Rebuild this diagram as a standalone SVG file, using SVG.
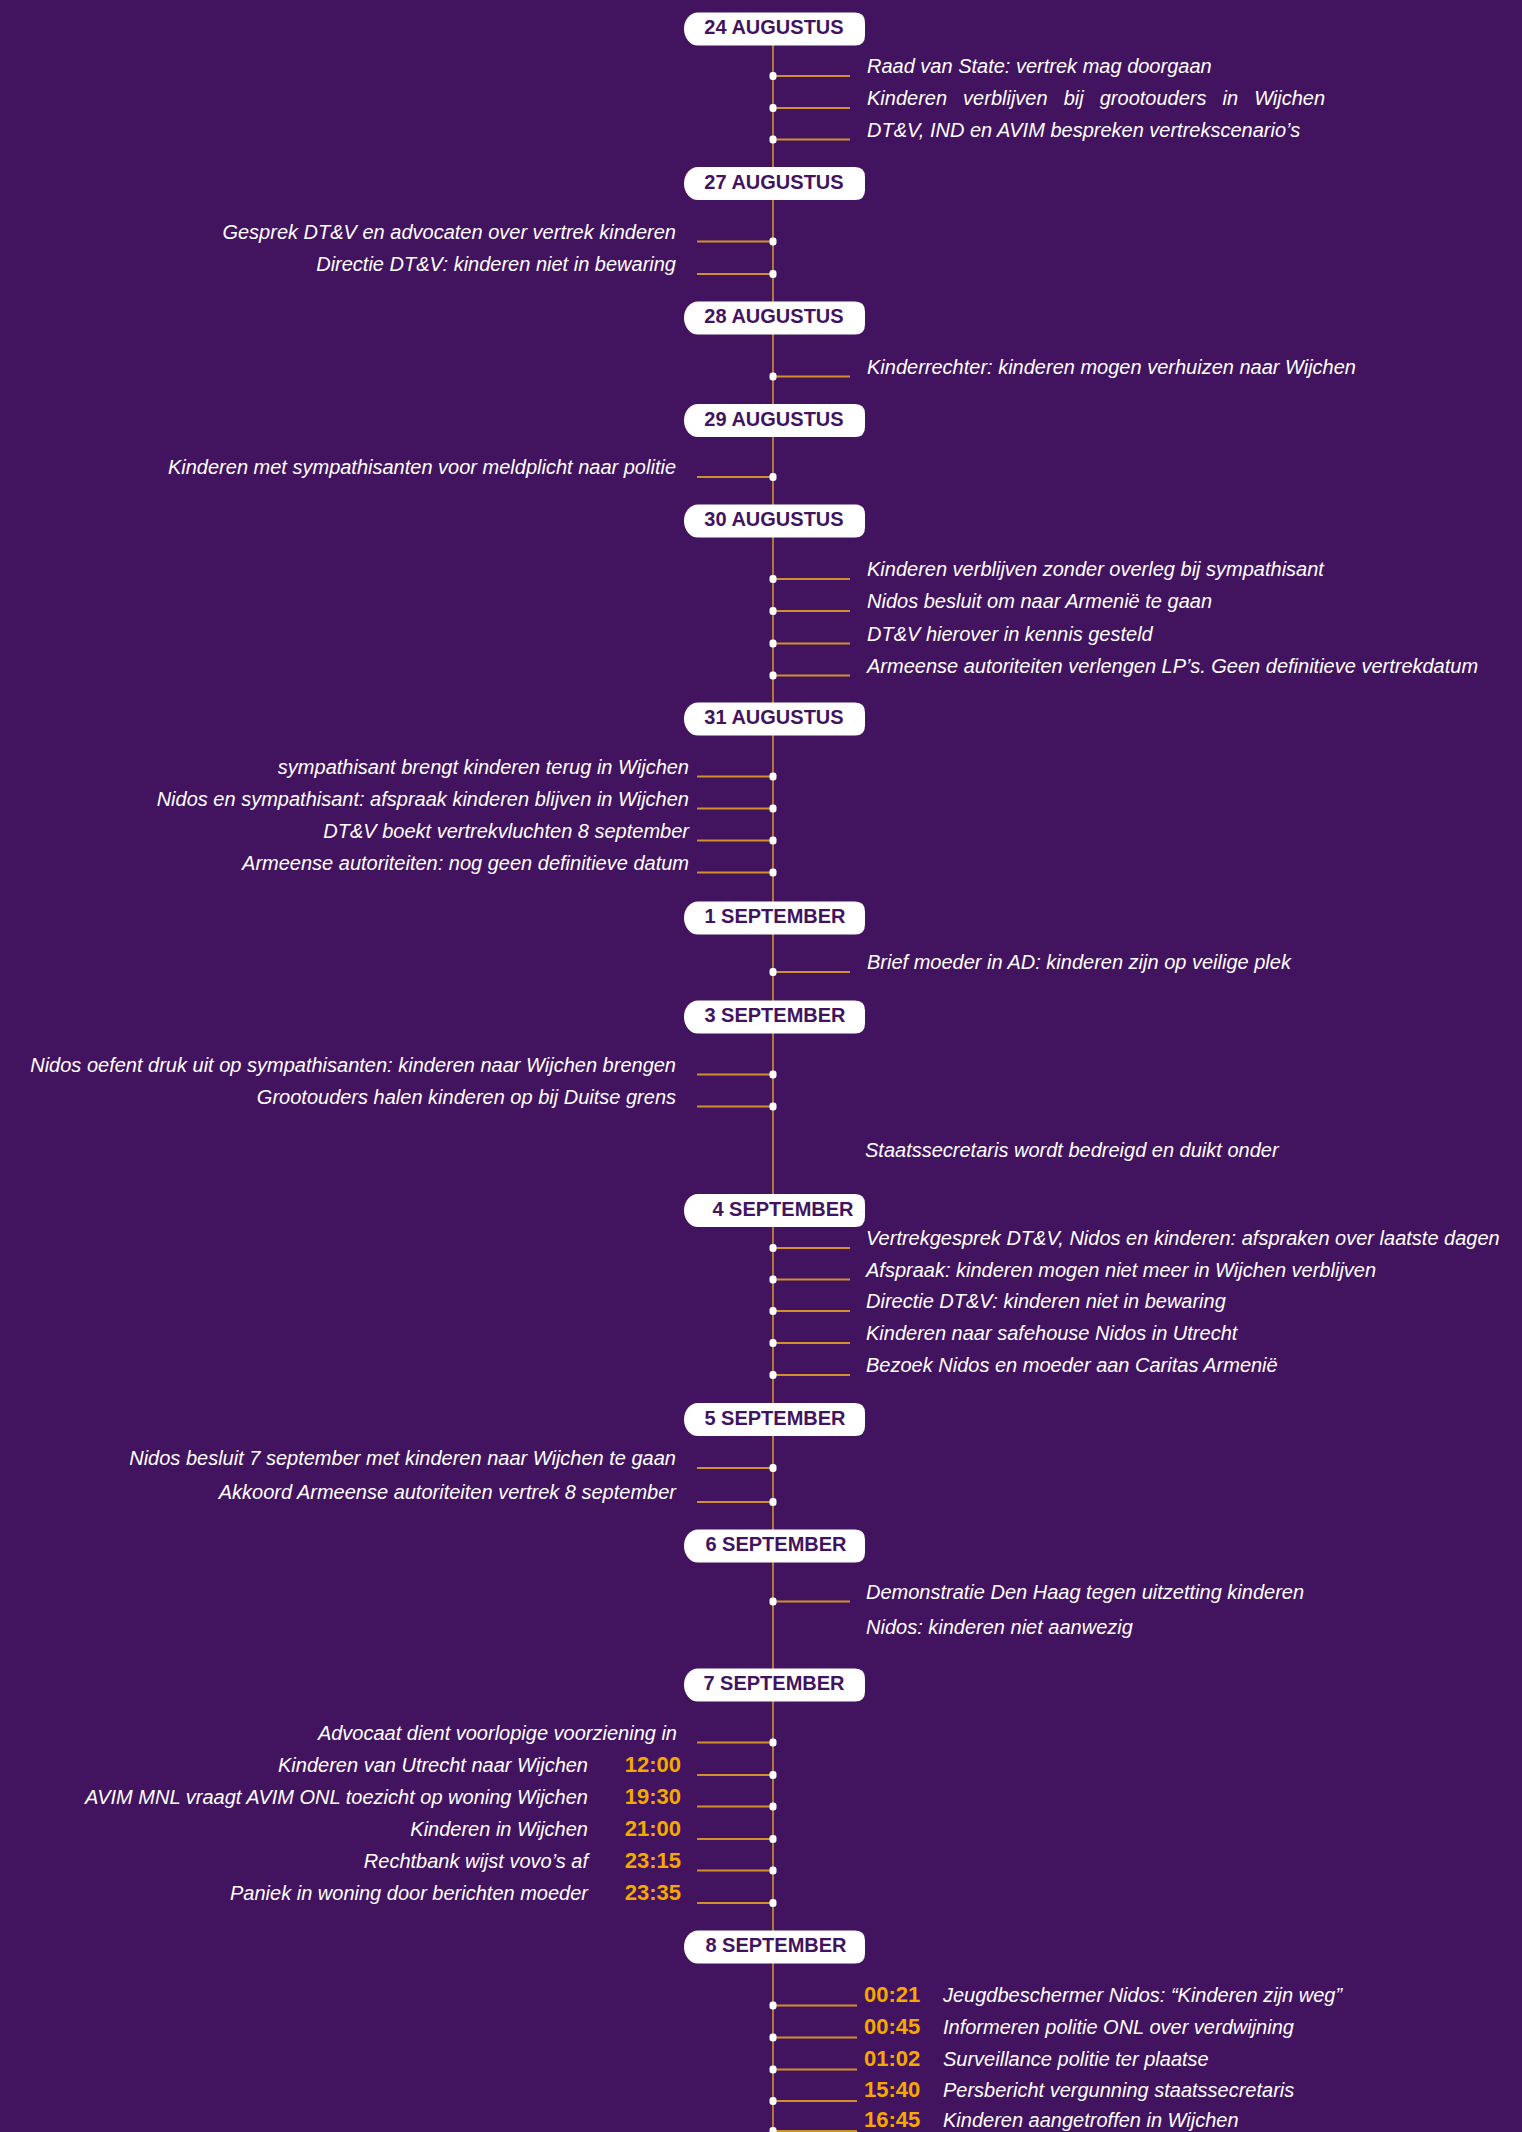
<svg xmlns="http://www.w3.org/2000/svg" width="1522" height="2132" viewBox="0 0 1522 2132">
<style>
.line{stroke:#d0902c;stroke-width:1.6;fill:none}
.tick{stroke:#d0902c;stroke-width:2;fill:none}
.dot{fill:#ffffff}
.pill{fill:#ffffff}
.ptxt{font-family:"Liberation Sans",Arial,sans-serif;font-weight:bold;font-size:20px;fill:#42145f;text-anchor:middle}
.ev{font-family:"Liberation Sans",Arial,sans-serif;font-style:italic;font-size:20px;fill:#ffffff}
.l{text-anchor:end}
.tm{font-family:"Liberation Sans",Arial,sans-serif;font-weight:bold;font-size:22px;fill:#f5a800}
</style>
<defs>
<path id="pill" d="M14,0 H171 Q181,0 181,10 V23 Q181,33 171,33 H14 A14,16.5 0 0 1 14,0 Z"/>
<rect id="dot" x="-3.5" y="-4" width="7" height="8" rx="3"/>
</defs>
<rect width="1522" height="2132" fill="#42145f"/>

<g id="connectors">
<line class="line" x1="773" y1="45" x2="773" y2="2132"/>
<g class="tick">
<path d="M773,76H850M773,108H850M773,139.5H850"/>
<path d="M697,241.5H773M697,274H773"/>
<path d="M773,376.5H850"/>
<path d="M697,477H773"/>
<path d="M773,579H850M773,611H850M773,643.5H850M773,675.5H850"/>
<path d="M697,776.5H773M697,808.5H773M697,840.5H773M697,872.5H773"/>
<path d="M773,972H850"/>
<path d="M697,1074.5H773M697,1106.5H773"/>
<path d="M773,1248H850M773,1279.5H850M773,1311H850M773,1343H850M773,1375H850"/>
<path d="M697,1468H773M697,1502H773"/>
<path d="M773,1601.5H850"/>
<path d="M697,1742.5H773M697,1775H773M697,1806.5H773M697,1839H773M697,1870.5H773M697,1903H773"/>
<path d="M773,2005.5H857M773,2037.5H857M773,2069.5H857M773,2101H857M773,2131H857"/>
</g>
<g class="dot">
<use href="#dot" x="773" y="76"/><use href="#dot" x="773" y="108"/><use href="#dot" x="773" y="139.5"/>
<use href="#dot" x="773" y="241.5"/><use href="#dot" x="773" y="274"/>
<use href="#dot" x="773" y="376.5"/>
<use href="#dot" x="773" y="477"/>
<use href="#dot" x="773" y="579"/><use href="#dot" x="773" y="611"/><use href="#dot" x="773" y="643.5"/><use href="#dot" x="773" y="675.5"/>
<use href="#dot" x="773" y="776.5"/><use href="#dot" x="773" y="808.5"/><use href="#dot" x="773" y="840.5"/><use href="#dot" x="773" y="872.5"/>
<use href="#dot" x="773" y="972"/>
<use href="#dot" x="773" y="1074.5"/><use href="#dot" x="773" y="1106.5"/>
<use href="#dot" x="773" y="1248"/><use href="#dot" x="773" y="1279.5"/><use href="#dot" x="773" y="1311"/><use href="#dot" x="773" y="1343"/><use href="#dot" x="773" y="1375"/>
<use href="#dot" x="773" y="1468"/><use href="#dot" x="773" y="1502"/>
<use href="#dot" x="773" y="1601.5"/>
<use href="#dot" x="773" y="1742.5"/><use href="#dot" x="773" y="1775"/><use href="#dot" x="773" y="1806.5"/><use href="#dot" x="773" y="1839"/><use href="#dot" x="773" y="1870.5"/><use href="#dot" x="773" y="1903"/>
<use href="#dot" x="773" y="2005.5"/><use href="#dot" x="773" y="2037.5"/><use href="#dot" x="773" y="2069.5"/><use href="#dot" x="773" y="2101"/><use href="#dot" x="773" y="2131"/>
</g>
</g>

<g id="day-24aug">
<use href="#pill" class="pill" x="684" y="12.5"/>
<text class="ptxt" x="774" y="34">24 AUGUSTUS</text>
</g>
<g id="ev-24aug">
<text class="ev" x="867" y="73">Raad van State: vertrek mag doorgaan</text>
<text class="ev" x="867" y="105" word-spacing="10.5">Kinderen verblijven bij grootouders in Wijchen</text>
<text class="ev" x="867" y="136.5">DT&amp;V, IND en AVIM bespreken vertrekscenario’s</text>
</g>

<g id="day-27aug">
<use href="#pill" class="pill" x="684" y="167"/>
<text class="ptxt" x="774" y="188.5">27 AUGUSTUS</text>
</g>
<g id="ev-27aug">
<text class="ev l" x="676" y="238.5">Gesprek DT&amp;V en advocaten over vertrek kinderen</text>
<text class="ev l" x="676" y="271">Directie DT&amp;V: kinderen niet in bewaring</text>
</g>

<g id="day-28aug">
<use href="#pill" class="pill" x="684" y="301.5"/>
<text class="ptxt" x="774" y="323">28 AUGUSTUS</text>
</g>
<g id="ev-28aug">
<text class="ev" x="867" y="373.5">Kinderrechter: kinderen mogen verhuizen naar Wijchen</text>
</g>

<g id="day-29aug">
<use href="#pill" class="pill" x="684" y="404"/>
<text class="ptxt" x="774" y="425.5">29 AUGUSTUS</text>
</g>
<g id="ev-29aug">
<text class="ev l" x="676" y="474">Kinderen met sympathisanten voor meldplicht naar politie</text>
</g>

<g id="day-30aug">
<use href="#pill" class="pill" x="684" y="504.5"/>
<text class="ptxt" x="774" y="526">30 AUGUSTUS</text>
</g>
<g id="ev-30aug">
<text class="ev" x="867" y="576">Kinderen verblijven zonder overleg bij sympathisant</text>
<text class="ev" x="867" y="608">Nidos besluit om naar Armenië te gaan</text>
<text class="ev" x="867" y="640.5">DT&amp;V hierover in kennis gesteld</text>
<text class="ev" x="867" y="672.5">Armeense autoriteiten verlengen LP’s. Geen definitieve vertrekdatum</text>
</g>

<g id="day-31aug">
<use href="#pill" class="pill" x="684" y="702.5"/>
<text class="ptxt" x="774" y="724">31 AUGUSTUS</text>
</g>
<g id="ev-31aug">
<text class="ev l" x="689" y="773.5">sympathisant brengt kinderen terug in Wijchen</text>
<text class="ev l" x="689" y="805.5">Nidos en sympathisant: afspraak kinderen blijven in Wijchen</text>
<text class="ev l" x="689" y="837.5">DT&amp;V boekt vertrekvluchten 8 september</text>
<text class="ev l" x="689" y="869.5">Armeense autoriteiten: nog geen definitieve datum</text>
</g>

<g id="day-1sep">
<use href="#pill" class="pill" x="684" y="901.5"/>
<text class="ptxt" x="775" y="923">1 SEPTEMBER</text>
</g>
<g id="ev-1sep">
<text class="ev" x="867" y="969">Brief moeder in AD: kinderen zijn op veilige plek</text>
</g>

<g id="day-3sep">
<use href="#pill" class="pill" x="684" y="1000.5"/>
<text class="ptxt" x="775" y="1022">3 SEPTEMBER</text>
</g>
<g id="ev-3sep">
<text class="ev l" x="676" y="1071.5">Nidos oefent druk uit op sympathisanten: kinderen naar Wijchen brengen</text>
<text class="ev l" x="676" y="1103.5">Grootouders halen kinderen op bij Duitse grens</text>
<text class="ev" x="865" y="1157">Staatssecretaris wordt bedreigd en duikt onder</text>
</g>

<g id="day-4sep">
<use href="#pill" class="pill" x="684" y="1194"/>
<text class="ptxt" x="783" y="1215.5">4 SEPTEMBER</text>
</g>
<g id="ev-4sep">
<text class="ev" x="866" y="1245">Vertrekgesprek DT&amp;V, Nidos en kinderen: afspraken over laatste dagen</text>
<text class="ev" x="866" y="1276.5">Afspraak: kinderen mogen niet meer in Wijchen verblijven</text>
<text class="ev" x="866" y="1308">Directie DT&amp;V: kinderen niet in bewaring</text>
<text class="ev" x="866" y="1340">Kinderen naar safehouse Nidos in Utrecht</text>
<text class="ev" x="866" y="1372">Bezoek Nidos en moeder aan Caritas Armenië</text>
</g>

<g id="day-5sep">
<use href="#pill" class="pill" x="684" y="1403"/>
<text class="ptxt" x="775" y="1424.5">5 SEPTEMBER</text>
</g>
<g id="ev-5sep">
<text class="ev l" x="676" y="1465">Nidos besluit 7 september met kinderen naar Wijchen te gaan</text>
<text class="ev l" x="676" y="1499">Akkoord Armeense autoriteiten vertrek 8 september</text>
</g>

<g id="day-6sep">
<use href="#pill" class="pill" x="684" y="1529.5"/>
<text class="ptxt" x="776" y="1551">6 SEPTEMBER</text>
</g>
<g id="ev-6sep">
<text class="ev" x="866" y="1598.5">Demonstratie Den Haag tegen uitzetting kinderen</text>
<text class="ev" x="866" y="1634">Nidos: kinderen niet aanwezig</text>
</g>

<g id="day-7sep">
<use href="#pill" class="pill" x="684" y="1668.5"/>
<text class="ptxt" x="774" y="1690">7 SEPTEMBER</text>
</g>
<g id="ev-7sep">
<text class="ev l" x="677" y="1739.5">Advocaat dient voorlopige voorziening in</text>
<text class="ev l" x="588" y="1772">Kinderen van Utrecht naar Wijchen</text>
<text class="tm l" x="681" y="1772">12:00</text>
<text class="ev l" x="588" y="1803.5">AVIM MNL vraagt AVIM ONL toezicht op woning Wijchen</text>
<text class="tm l" x="681" y="1803.5">19:30</text>
<text class="ev l" x="588" y="1836">Kinderen in Wijchen</text>
<text class="tm l" x="681" y="1836">21:00</text>
<text class="ev l" x="588" y="1867.5">Rechtbank wijst vovo’s af</text>
<text class="tm l" x="681" y="1867.5">23:15</text>
<text class="ev l" x="588" y="1900">Paniek in woning door berichten moeder</text>
<text class="tm l" x="681" y="1900">23:35</text>
</g>

<g id="day-8sep">
<use href="#pill" class="pill" x="684" y="1930.5"/>
<text class="ptxt" x="776" y="1952">8 SEPTEMBER</text>
</g>
<g id="ev-8sep">
<text class="tm" x="864" y="2001.5">00:21</text>
<text class="ev" x="943" y="2001.5">Jeugdbeschermer Nidos: “Kinderen zijn weg”</text>
<text class="tm" x="864" y="2033.5">00:45</text>
<text class="ev" x="943" y="2033.5">Informeren politie ONL over verdwijning</text>
<text class="tm" x="864" y="2065.5">01:02</text>
<text class="ev" x="943" y="2065.5">Surveillance politie ter plaatse</text>
<text class="tm" x="864" y="2097">15:40</text>
<text class="ev" x="943" y="2097">Persbericht vergunning staatssecretaris</text>
<text class="tm" x="864" y="2127">16:45</text>
<text class="ev" x="943" y="2127">Kinderen aangetroffen in Wijchen</text>
</g>
</svg>
